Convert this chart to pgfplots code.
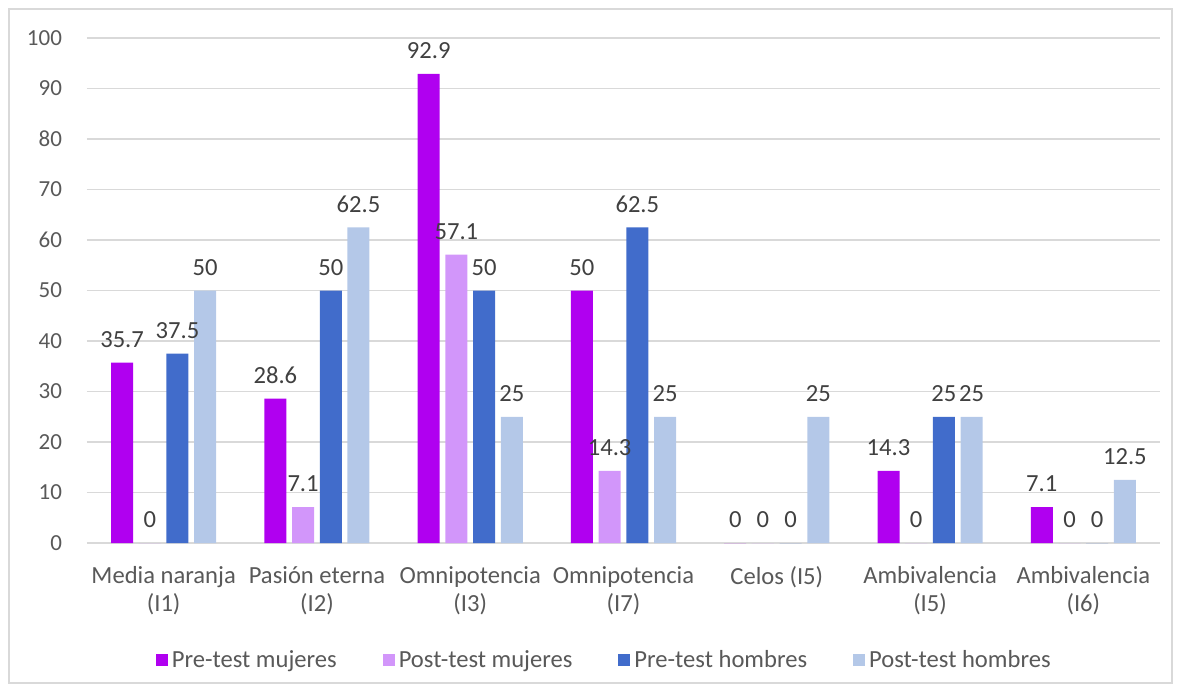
\documentclass[border=0pt]{standalone}
\usepackage{fontspec}
\setmainfont{Carlito}
\usepackage{pgfplots}
\pgfplotsset{compat=1.18}
\definecolor{c1}{HTML}{B000F0}
\definecolor{c2}{HTML}{D296FA}
\definecolor{c3}{HTML}{416CCB}
\definecolor{c4}{HTML}{B4C8E8}
\definecolor{gridc}{HTML}{D9D9D9}
\definecolor{tickc}{HTML}{595959}
\definecolor{labc}{HTML}{404040}
\pgfplotsset{sqlegend/.style={legend image code/.code={\fill[##1] (0pt,-3pt) rectangle (6pt,3pt);}}}
\begin{document}
\begin{tikzpicture}[x=1pt,y=1pt]
\useasboundingbox (0,0) rectangle (591,346.5);
\draw[gridc, line width=0.6pt] (4.5,5) rectangle (586,342);
\begin{axis}[
  at={(43.5pt,75pt)}, anchor=south west,
  scale only axis, width=536.5pt, height=252.5pt,
  xmin=-0.5, xmax=6.5, ymin=0, ymax=100,
  ytick={0,10,...,100},
  xtick={0,...,6},
  xticklabels={{Media naranja\\(I1)},{Pasión eterna\\(I2)},{Omnipotencia\\(I3)},{Omnipotencia\\(I7)},{Celos (I5)},{Ambivalencia\\(I5)},{Ambivalencia\\(I6)}},
  /pgf/number format/assume math mode=true,
  y tick label style={font=\fontsize{11.5}{14}\selectfont, text=tickc, xshift=-9pt},
  x tick label style={font=\fontsize{12.3}{14}\selectfont, text=tickc, align=center, yshift=-4pt},
  axis x line*=bottom, axis y line*=left,
  x axis line style={gridc, -, line width=0.8pt},
  y axis line style={draw=none},
  tick style={draw=none},
  ymajorgrids, grid style={gridc, line width=0.6pt},
  ybar=2.85pt, bar width=11pt,
  nodes near coords,
  every node near coord/.append style={font=\fontsize{12.3}{14}\selectfont, text=labc, yshift=4pt},
  legend style={at={(0.483,-0.232)}, anchor=center, draw=none, legend columns=4,
    font=\fontsize{12.3}{14}\selectfont, text=tickc,
    /tikz/every even column/.append style={column sep=21pt}},
]
\addplot[fill=c1, draw=none, sqlegend] coordinates {(0,35.7) (1,28.6) (2,92.9) (3,50) (4,0) (5,14.3) (6,7.1)};
\addplot[fill=c2, draw=none, sqlegend] coordinates {(0,0) (1,7.1) (2,57.1) (3,14.3) (4,0) (5,0) (6,0)};
\addplot[fill=c3, draw=none, sqlegend] coordinates {(0,37.5) (1,50) (2,50) (3,62.5) (4,0) (5,25) (6,0)};
\addplot[fill=c4, draw=none, sqlegend] coordinates {(0,50) (1,62.5) (2,25) (3,25) (4,25) (5,25) (6,12.5)};
\legend{Pre-test mujeres, Post-test mujeres, Pre-test hombres, Post-test hombres}
\end{axis}
\end{tikzpicture}
\end{document}
